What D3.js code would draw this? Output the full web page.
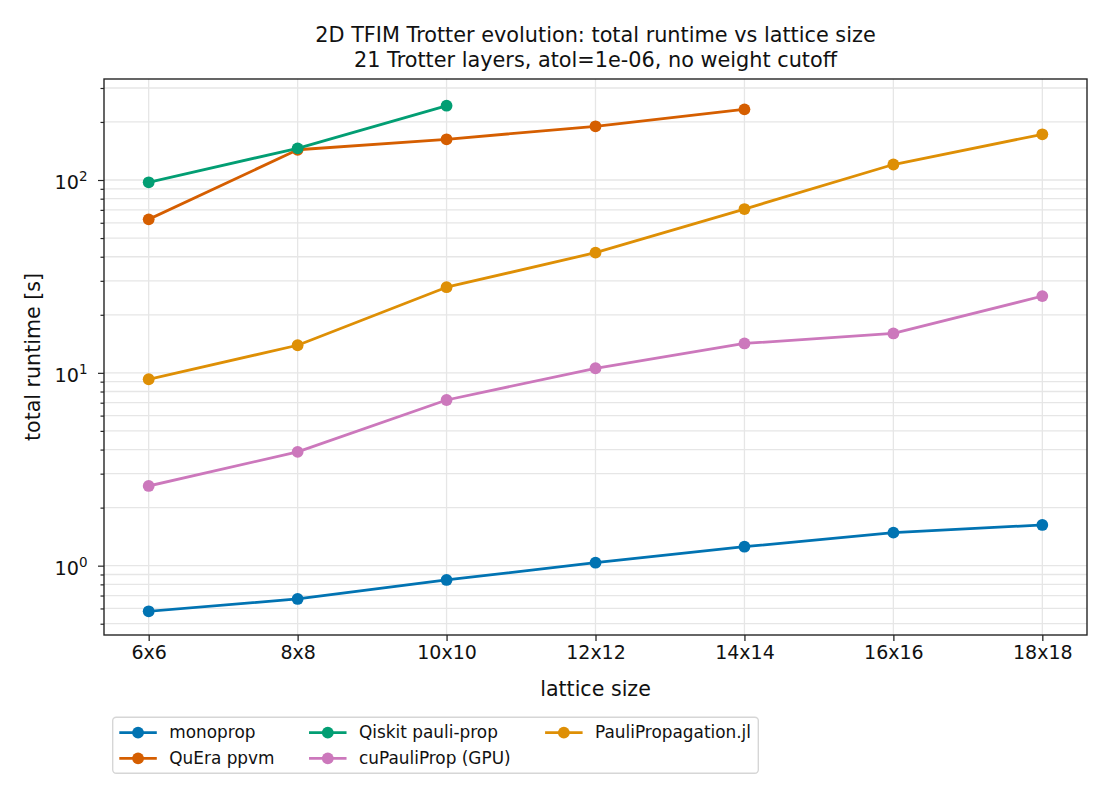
<!DOCTYPE html>
<html>
<head>
<meta charset="utf-8">
<script src="https://cdn.jsdelivr.net/npm/d3@7"></script>
<style>
    html, body { margin: 0; padding: 0; background: #ffffff; }
    svg { display: block; font-family: "DejaVu Sans", sans-serif; }
</style>
</head>
<body>
<div id="chartArea"></div>
<script>

// lattice sizes (numeric side length) and their tick labels
var latticeSides = [6, 8, 10, 12, 14, 16, 18];
var latticeLabels = ["6x6", "8x8", "10x10", "12x12", "14x14", "16x16", "18x18"];

// total runtime [s] (null = not run)
var monopropTimes = [0.58, 0.672, 0.843, 1.036, 1.254, 1.483, 1.626];
var queraTimes    = [62.5, 143.5, 162.6, 189.9, 232.6, null, null];
var qiskitTimes   = [97.3, 146.0, 242.8, null, null, null, null];
var cupauliTimes  = [2.59, 3.89, 7.23, 10.56, 14.2, 16.0, 25.0];
var pauliJlTimes  = [9.26, 13.9, 27.8, 42.0, 70.7, 120.3, 172.6];

var seriesNames  = ["monoprop", "QuEra ppvm", "Qiskit pauli-prop", "cuPauliProp (GPU)", "PauliPropagation.jl"];
var seriesColors = ["#0173b2", "#d55e00", "#029e73", "#cc78bc", "#de8f05"];
var seriesValues = [monopropTimes, queraTimes, qiskitTimes, cupauliTimes, pauliJlTimes];

var titleLines = ["2D TFIM Trotter evolution: total runtime vs lattice size",
                  "21 Trotter layers, atol=1e-06, no weight cutoff"];
var xLabel = "lattice size";
var yLabel = "total runtime [s]";

var yDomain = [0.437, 334];   // log axis limits (matplotlib-ish 5% margin)
var yMajorTicks = [1, 10, 100];

var width = 1110, height = 810;
var plot = {left: 104, right: 1087, top: 79, bottom: 635};

var svg = d3.select("#chartArea")
    .append("svg")
    .attr("width", width)
    .attr("height", height);

var x = d3.scaleLinear()
    .domain([5.4, 18.6])
    .range([plot.left, plot.right]);

var y = d3.scaleLog()
    .domain(yDomain)
    .range([plot.bottom, plot.top]);

// minor ticks 2..9 per decade inside the domain
var yMinorTicks = [];
for (var e = -1; e <= 2; e++) {
    for (var m = 2; m <= 9; m++) {
        var v = m * Math.pow(10, e);
        if (v >= yDomain[0] && v <= yDomain[1]) yMinorTicks.push(v);
    }
}

var gridColor = "#e6e6e6";
var gridGroup = svg.append("g").attr("class", "grid");

gridGroup.selectAll("line.hgrid")
    .data(yMajorTicks.concat(yMinorTicks))
    .enter().append("line")
    .attr("class", "hgrid")
    .attr("x1", plot.left).attr("x2", plot.right)
    .attr("y1", function (d) { return y(d); })
    .attr("y2", function (d) { return y(d); })
    .attr("stroke", gridColor)
    .attr("stroke-width", 1.3);

gridGroup.selectAll("line.vgrid")
    .data(latticeSides)
    .enter().append("line")
    .attr("class", "vgrid")
    .attr("y1", plot.top).attr("y2", plot.bottom)
    .attr("x1", function (d) { return x(d); })
    .attr("x2", function (d) { return x(d); })
    .attr("stroke", gridColor)
    .attr("stroke-width", 1.3);

// axes - tick labels are drawn by hand below (mathtext style 10^n)
var axisColor = "#262626";

var xAxis = d3.axisBottom(x)
    .tickValues(latticeSides)
    .tickSize(6)
    .tickPadding(6)
    .tickFormat(function (d, i) { return latticeLabels[i]; });

var xAxisG = svg.append("g")
    .attr("transform", "translate(0," + plot.bottom + ")")
    .call(xAxis);
xAxisG.select(".domain").remove();
xAxisG.selectAll(".tick line").attr("stroke", axisColor).attr("stroke-width", 1.3);
xAxisG.selectAll(".tick text")
    .attr("fill", "#111")
    .attr("font-family", "DejaVu Sans")
    .attr("font-size", "19px")
    .attr("dy", "0.71em")
    .attr("y", 11);

var yAxisMajor = d3.axisLeft(y).tickValues(yMajorTicks).tickSize(6).tickFormat("");
var yAxisMinor = d3.axisLeft(y).tickValues(yMinorTicks).tickSize(3.5).tickFormat("");

[yAxisMajor, yAxisMinor].forEach(function (ax) {
    var g = svg.append("g")
        .attr("transform", "translate(" + plot.left + ",0)")
        .call(ax);
    g.select(".domain").remove();
    g.selectAll(".tick line").attr("stroke", axisColor).attr("stroke-width", 1.2);
});

// 10^n labels
var yLabelsG = svg.append("g");
yMajorTicks.forEach(function (t) {
    var txt = yLabelsG.append("text")
        .attr("x", 87.5)
        .attr("y", y(t) + 9)
        .attr("text-anchor", "end")
        .attr("fill", "#111")
        .attr("font-size", "19.2px");
    txt.append("tspan").text("10");
    txt.append("tspan")
        .attr("dy", -8)
        .attr("font-size", "13.5px")
        .text(String(Math.round(Math.log10(t))));
});

// spines
svg.append("rect")
    .attr("x", plot.left).attr("y", plot.top)
    .attr("width", plot.right - plot.left)
    .attr("height", plot.bottom - plot.top)
    .attr("fill", "none")
    .attr("stroke", axisColor)
    .attr("stroke-width", 1.4);

// series lines + markers
var line = d3.line()
    .defined(function (d) { return d.v != null; })
    .x(function (d) { return x(d.s); })
    .y(function (d) { return y(d.v); });

var seriesGroup = svg.append("g");
seriesValues.forEach(function (vals, k) {
    var pts = vals.map(function (v, i) { return {s: latticeSides[i], v: v}; });
    var g = seriesGroup.append("g");
    g.append("path")
        .datum(pts)
        .attr("d", line)
        .attr("fill", "none")
        .attr("stroke", seriesColors[k])
        .attr("stroke-width", 2.8)
        .attr("stroke-linejoin", "round")
        .attr("stroke-linecap", "square");
    g.selectAll("circle")
        .data(pts.filter(function (d) { return d.v != null; }))
        .enter().append("circle")
        .attr("cx", function (d) { return x(d.s); })
        .attr("cy", function (d) { return y(d.v); })
        .attr("r", 5.9)
        .attr("fill", seriesColors[k]);
});

// title and axis labels
var cx = (plot.left + plot.right) / 2;
svg.selectAll("text.title")
    .data(titleLines)
    .enter().append("text")
    .attr("class", "title")
    .attr("x", cx)
    .attr("y", function (d, i) { return 42.3 + i * 25; })
    .attr("text-anchor", "middle")
    .attr("fill", "#111")
    .attr("font-size", "20.8px")
    .text(function (d) { return d; });

svg.append("text")
    .attr("x", cx)
    .attr("y", 696)
    .attr("text-anchor", "middle")
    .attr("fill", "#111")
    .attr("font-size", "20.6px")
    .text(xLabel);

svg.append("text")
    .attr("transform", "translate(40," + ((plot.top + plot.bottom) / 2) + ") rotate(-90)")
    .attr("text-anchor", "middle")
    .attr("fill", "#111")
    .attr("font-size", "20.6px")
    .text(yLabel);

// legend: 3 columns, filled column by column (2 rows)
var legendFont = 16.9;
var legend = {left: 112.7, top: 717.3, bottom: 773.3, rowY: [732.7, 758.3],
              pad: 6.6, handle: 37.5, gap: 12.5, colSpacing: 34.5};

var legendG = svg.append("g");
var legendBox = legendG.append("rect")
    .attr("x", legend.left).attr("y", legend.top)
    .attr("height", legend.bottom - legend.top)
    .attr("rx", 3.5)
    .attr("fill", "#ffffff")
    .attr("fill-opacity", 0.8)
    .attr("stroke", "#d6d6d6")
    .attr("stroke-width", 1.4);

var nRows = 2;
var colX = legend.left + legend.pad;
var nCols = Math.ceil(seriesNames.length / nRows);
for (var c = 0; c < nCols; c++) {
    var colWidth = 0;
    for (var r = 0; r < nRows; r++) {
        var k = c * nRows + r;
        if (k >= seriesNames.length) break;
        var ry = legend.rowY[r];
        legendG.append("line")
            .attr("x1", colX).attr("x2", colX + legend.handle)
            .attr("y1", ry).attr("y2", ry)
            .attr("stroke", seriesColors[k])
            .attr("stroke-width", 2.8);
        legendG.append("circle")
            .attr("cx", colX + legend.handle / 2)
            .attr("cy", ry)
            .attr("r", 5.9)
            .attr("fill", seriesColors[k]);
        var t = legendG.append("text")
            .attr("x", colX + legend.handle + legend.gap)
            .attr("y", ry + 5.5)
            .attr("fill", "#111")
            .attr("font-size", legendFont + "px")
            .text(seriesNames[k]);
        colWidth = Math.max(colWidth, t.node().getComputedTextLength());
    }
    var colEnd = colX + legend.handle + legend.gap + colWidth;
    if (c < nCols - 1) {
        colX = colEnd + legend.colSpacing;
    } else {
        legendBox.attr("width", colEnd + 7.3 - legend.left);
    }
}

</script>
</body>
</html>
